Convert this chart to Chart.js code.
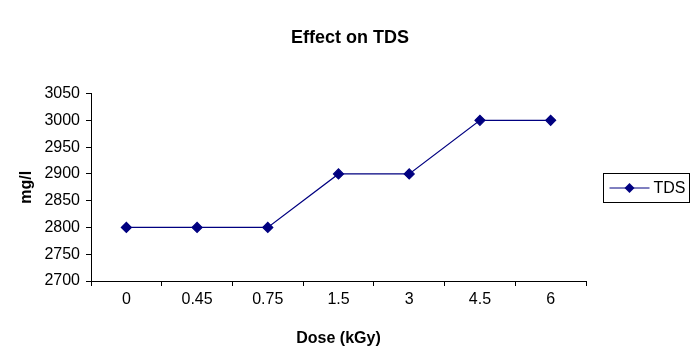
<!DOCTYPE html>
<html lang="en">
<head>
<meta charset="UTF-8">
<title>Effect on TDS</title>
<script src="https://cdn.jsdelivr.net/npm/chart.js"></script>
<style>
  body { margin: 0; background: #fff; }
  #wrap { width: 700px; height: 364px; }
</style>
</head>
<body>
<div id="wrap"><canvas id="tdsChart" width="700" height="364"></canvas></div>
<script>
// data
const doses = ['0', '0.45', '0.75', '1.5', '3', '4.5', '6'];
const tdsValues = [2800, 2800, 2800, 2900, 2900, 3000, 3000];
const yMin = 2700, yMax = 3050, yStep = 50;

const FONT = "'Liberation Sans', Arial, sans-serif";
const navy = '#000080';

// legend drawn as a framed box, the way the spreadsheet had it
const boxLegend = {
    id: 'boxLegend',
    afterDraw(chart) {
        const ctx = chart.ctx;
        const ds = chart.data.datasets[0];
        const x = 603.5, y = 173.5, w = 86, h = 29;
        ctx.save();
        ctx.fillStyle = '#fff';
        ctx.fillRect(x, y, w, h);
        ctx.strokeStyle = '#000';
        ctx.lineWidth = 1;
        ctx.strokeRect(x, y, w, h);
        const my = y + h / 2;
        ctx.strokeStyle = navy;
        ctx.beginPath();
        ctx.moveTo(x + 6, my);
        ctx.lineTo(x + 46, my);
        ctx.stroke();
        ctx.fillStyle = navy;
        ctx.beginPath();
        ctx.moveTo(x + 26, my - 5);
        ctx.lineTo(x + 31, my);
        ctx.lineTo(x + 26, my + 5);
        ctx.lineTo(x + 21, my);
        ctx.closePath();
        ctx.fill();
        ctx.fillStyle = '#000';
        ctx.font = '16px ' + FONT;
        ctx.textBaseline = 'middle';
        ctx.fillText(ds.label, x + 50, my + 1);
        ctx.restore();
    }
};

new Chart(document.getElementById('tdsChart').getContext('2d'), {
    type: 'line',
    data: {
        labels: doses,
        datasets: [{
            label: 'TDS',
            data: tdsValues,
            borderColor: navy,
            backgroundColor: navy,
            borderWidth: 1.2,
            pointStyle: 'rectRot',
            pointRadius: 5,
            pointHoverRadius: 5,
            tension: 0
        }]
    },
    options: {
        responsive: false,
        animation: false,
        layout: { padding: 0 },
        plugins: {
            legend: { display: false },
            tooltip: { enabled: false },
            title: {
                display: true,
                text: 'Effect on TDS',
                color: '#000',
                font: { family: FONT, size: 18, weight: 'bold' },
                padding: { top: 27, bottom: 45 }
            }
        },
        scales: {
            x: {
                offset: true,
                grid: { drawOnChartArea: false, drawTicks: true, tickLength: 5, color: '#000', offset: true },
                border: { color: '#000', width: 1 },
                ticks: { color: '#000', font: { family: FONT, size: 16 }, padding: 4, maxRotation: 0 },
                title: {
                    display: true,
                    text: 'Dose (kGy)',
                    color: '#000',
                    font: { family: FONT, size: 16, weight: 'bold' },
                    padding: { top: 0, bottom: 16 }
                },
                afterFit(scale) { scale.height = 83; }
            },
            y: {
                min: yMin,
                max: yMax,
                grid: { drawOnChartArea: false, drawTicks: true, tickLength: 5, color: '#000' },
                border: { color: '#000', width: 1 },
                ticks: {
                    stepSize: yStep,
                    color: '#000',
                    font: { family: FONT, size: 16 },
                    padding: 6,
                    callback: v => String(v)
                },
                title: {
                    display: true,
                    text: 'mg/l',
                    color: '#000',
                    font: { family: FONT, size: 16, weight: 'bold' },
                    padding: { top: 17, bottom: 0 }
                },
                afterFit(scale) { scale.width = 91; }
            },
            // empty band on the right where the legend box sits
            side: {
                position: 'right',
                display: true,
                grid: { display: false },
                border: { display: false },
                ticks: { display: false },
                afterFit(scale) { scale.width = 114; }
            }
        }
    },
    plugins: [boxLegend]
});
</script>
</body>
</html>
